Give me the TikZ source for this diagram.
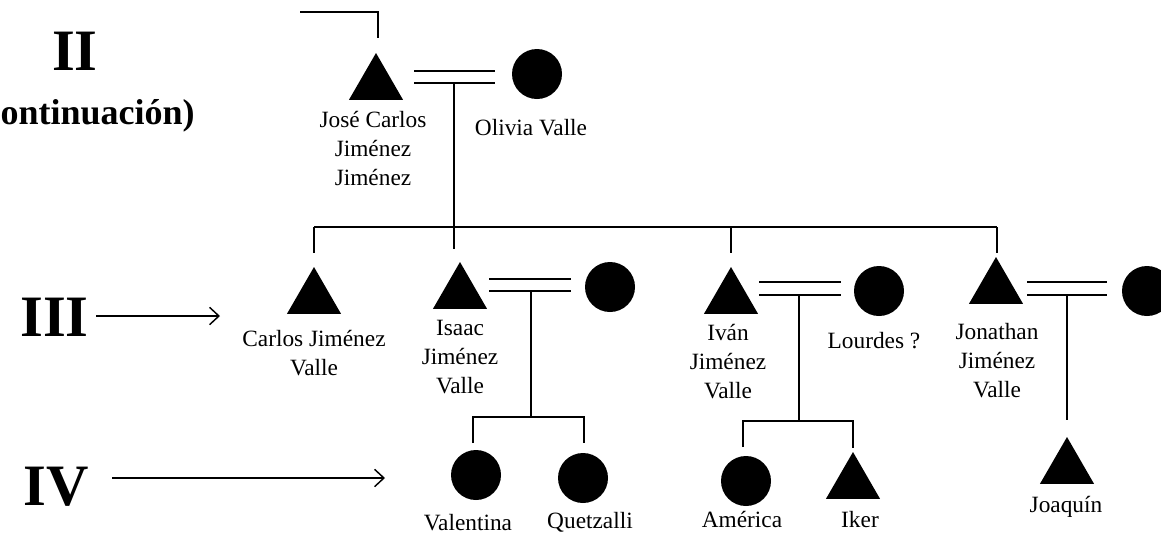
\documentclass[tikz,border=0pt]{standalone}
\usepackage{fontspec}
\setmainfont{Liberation Serif}
\usetikzlibrary{shapes.geometric,arrows.meta}
\begin{document}
\begin{tikzpicture}[x=0.75pt,y=-0.75pt,
  male/.style={regular polygon, regular polygon sides=3, fill=black, draw=none, inner sep=0pt, outer sep=0pt, minimum size=46.8pt},
  female/.style={circle, fill=black, draw=none, inner sep=0pt, outer sep=0pt, minimum size=37.5pt},
  lbl/.style={font=\fontsize{17.5}{21.4}\selectfont, align=center, anchor=base, inner sep=0pt},
  gen/.style={font=\fontsize{44}{44}\selectfont\bfseries, inner sep=0pt, anchor=base west},
  ln/.style={line width=1.3pt},
  arr/.style={line width=1.1pt, -{Straight Barb[length=7pt,width=13pt,line width=1.1pt]}}
]
\useasboundingbox (0,0) rectangle (1161,537);

% generation labels
\node[font=\fontsize{44}{44}\selectfont\bfseries, inner sep=0pt, anchor=base] (g2) at (75,70) {II};
\node[font=\fontsize{27}{27}\selectfont\bfseries, inner sep=0pt, anchor=base east] (g2b) at (195,124) {(continuación)};
\node[gen] (g3) at (20,336) {III};
\node[gen] (g4) at (23,505) {IV};
\coordinate (a3s) at (96,316);  \coordinate (a3e) at (220,316);
\coordinate (a4s) at (112,478); \coordinate (a4e) at (385,478);
\draw[arr] (a3s) -- (a3e);
\draw[arr] (a4s) -- (a4e);

% generation II
\node[male] (jose) at (376,84.2) {};
\node[female] (olivia) at (537,74) {};
\node[lbl] (josel) at (373,185) {José Carlos\\Jiménez\\Jiménez};
\node[lbl] (olivial) at (531,135) {Olivia Valle};
\coordinate (topin) at (300,12);
\coordinate (topend) at (378,38);
\draw[ln] (topin) -| (topend);
\coordinate (m1a) at (414,71); \coordinate (m1b) at (495,71);
\coordinate (m1c) at (414,83); \coordinate (m1d) at (495,83);
\draw[ln] (m1a) -- (m1b);
\draw[ln] (m1c) -- (m1d);
\coordinate (c1top) at (454,83);
\coordinate (c1bot) at (454,249);
\draw[ln] (c1top) -- (c1bot);
\coordinate (sibL) at (314,227); \coordinate (sibR) at (997,227);
\draw[ln] (sibL) -- (sibR);
\coordinate (d1) at (314,253); \coordinate (d3) at (731,253); \coordinate (d4) at (997,253);
\coordinate (s3) at (731,227);
\draw[ln] (sibL) -- (d1);
\draw[ln] (s3) -- (d3);
\draw[ln] (sibR) -- (d4);

% generation III
\node[male] (carlos) at (314,298.2) {};
\node[lbl] (carlosl) at (314,375) {Carlos Jiménez\\Valle};

\node[male] (isaac) at (460,293.2) {};
\node[lbl] (isaacl) at (460,393) {Isaac\\Jiménez\\Valle};
\node[female] (isaacw) at (610,287) {};
\coordinate (m2a) at (489,279); \coordinate (m2b) at (571,279);
\coordinate (m2c) at (489,291); \coordinate (m2d) at (571,291);
\draw[ln] (m2a) -- (m2b);
\draw[ln] (m2c) -- (m2d);
\coordinate (c2top) at (531,291); \coordinate (c2bot) at (531,417);
\draw[ln] (c2top) -- (c2bot);
\coordinate (k2L) at (473,417); \coordinate (k2R) at (584,417);
\coordinate (k2Ld) at (473,443); \coordinate (k2Rd) at (584,443);
\draw[ln] (k2Ld) -- (k2L) -- (k2R) -- (k2Rd);

\node[male] (ivan) at (731,298.2) {};
\node[lbl] (ivanl) at (728,398) {Iván\\Jiménez\\Valle};
\node[female] (lourdes) at (879,291) {};
\node[lbl] (lourdesl) at (874,348) {Lourdes ?};
\coordinate (m3a) at (759,282); \coordinate (m3b) at (841,282);
\coordinate (m3c) at (759,295); \coordinate (m3d) at (841,295);
\draw[ln] (m3a) -- (m3b);
\draw[ln] (m3c) -- (m3d);
\coordinate (c3top) at (799,295); \coordinate (c3bot) at (799,421);
\draw[ln] (c3top) -- (c3bot);
\coordinate (k3L) at (743,421); \coordinate (k3R) at (853,421);
\coordinate (k3Ld) at (743,447); \coordinate (k3Rd) at (853,448);
\draw[ln] (k3Ld) -- (k3L) -- (k3R) -- (k3Rd);

\node[male] (jonathan) at (996,288.2) {};
\node[lbl] (jonathanl) at (997,397) {Jonathan\\Jiménez\\Valle};
\node[female] (jonathanw) at (1147,291) {};
\coordinate (m4a) at (1027,282); \coordinate (m4b) at (1107,282);
\coordinate (m4c) at (1027,295); \coordinate (m4d) at (1107,295);
\draw[ln] (m4a) -- (m4b);
\draw[ln] (m4c) -- (m4d);
\coordinate (c4top) at (1067,295); \coordinate (c4bot) at (1067,420);
\draw[ln] (c4top) -- (c4bot);

% generation IV
\node[female] (valentina) at (476,475) {};
\node[lbl] (valentinal) at (468,530) {Valentina};
\node[female] (quetzalli) at (583,478) {};
\node[lbl] (quetzallil) at (590,528) {Quetzalli};
\node[female] (america) at (746,481) {};
\node[lbl] (americal) at (742,527) {América};
\node[male] (iker) at (853,483.2) {};
\node[lbl] (ikerl) at (860,527) {Iker};
\node[male] (joaquin) at (1067,468.2) {};
\node[lbl] (joaquinl) at (1066,512) {Joaquín};
\end{tikzpicture}
\end{document}
